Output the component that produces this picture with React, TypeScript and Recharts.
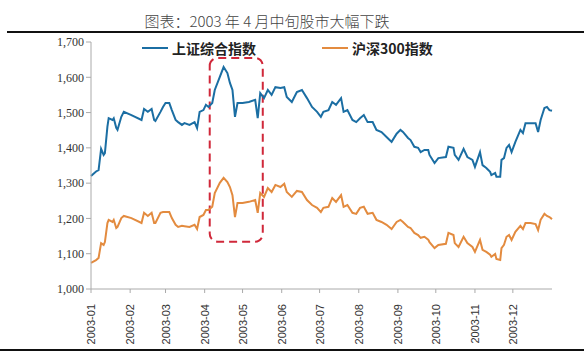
import { LineChart, Line, XAxis, YAxis, ReferenceArea, Legend } from "recharts";

// Day of year (0 = 2003-01-01) for each sampled point
const days = [
  0, 4, 6, 8, 10, 11, 13, 14, 17, 18, 20, 21, 24, 26, 32, 40, 42, 45, 48, 50, 51, 55, 57, 59, 62, 64,
  67, 69, 72, 74, 78, 82, 84, 86, 89, 91, 93, 96, 98, 102, 105, 108, 110, 112, 114, 116, 120, 125,
  130, 132, 134, 137, 140, 143, 146, 150, 153, 155, 159, 163, 167, 171, 175, 179, 182, 184, 188,
  191, 194, 198, 200, 203, 207, 210, 213, 216, 219, 223, 226, 230, 234, 238, 242, 245, 247, 251,
  253, 256, 259, 261, 264, 267, 268, 272, 275, 281, 283, 287, 288, 291, 295, 298, 302, 304, 308,
  310, 313, 316, 317, 320, 321, 324, 325, 327, 329, 331, 333, 336, 340, 342, 344, 348, 352, 354,
  356, 359, 361, 363, 365,
];

const shanghai = [
  1320, 1333, 1337, 1397, 1380, 1385, 1460, 1484, 1479, 1484, 1457, 1451, 1488, 1502, 1493, 1479,
  1510, 1502, 1510, 1479, 1476, 1502, 1516, 1527, 1527, 1507, 1479, 1473, 1465, 1470, 1465, 1473,
  1456, 1502, 1507, 1522, 1516, 1527, 1564, 1601, 1629, 1612, 1584, 1564, 1488, 1527, 1527, 1530,
  1536, 1484, 1555, 1541, 1564, 1550, 1572, 1570, 1572, 1544, 1530, 1558, 1564, 1541, 1516, 1502,
  1488, 1502, 1507, 1530, 1522, 1541, 1502, 1507, 1479, 1473, 1484, 1493, 1473, 1473, 1451, 1445,
  1431, 1417, 1440, 1451, 1445, 1428, 1422, 1403, 1400, 1388, 1394, 1394, 1380, 1357, 1371, 1374,
  1403, 1400, 1380, 1366, 1397, 1374, 1366, 1346, 1388, 1351, 1343, 1332, 1323, 1329, 1318, 1318,
  1366, 1371, 1400, 1408, 1388, 1417, 1451, 1442, 1470, 1470, 1470, 1445, 1479, 1513, 1516, 1507,
  1505,
];

const hs300 = [
  1074, 1082, 1088, 1130, 1125, 1133, 1187, 1196, 1190, 1196, 1173, 1176, 1201, 1207, 1201, 1187,
  1216, 1207, 1216, 1187, 1187, 1216, 1218, 1218, 1218, 1201, 1182, 1176, 1179, 1178, 1176, 1182,
  1170, 1204, 1210, 1224, 1224, 1233, 1272, 1301, 1315, 1303, 1289, 1266, 1204, 1244, 1244, 1247,
  1252, 1216, 1272, 1261, 1286, 1275, 1295, 1289, 1298, 1275, 1261, 1278, 1275, 1252, 1238, 1230,
  1218, 1230, 1233, 1258, 1247, 1266, 1233, 1238, 1216, 1213, 1230, 1233, 1213, 1216, 1196, 1190,
  1182, 1170, 1190, 1196, 1190, 1176, 1173, 1159, 1153, 1145, 1148, 1140, 1133, 1116, 1125, 1128,
  1159, 1153, 1130, 1119, 1148, 1130, 1119, 1105, 1139, 1111, 1105, 1097, 1091, 1099, 1085, 1082,
  1116, 1125, 1148, 1153, 1139, 1162, 1179, 1170, 1187, 1187, 1184, 1167, 1196, 1213, 1207, 1204,
  1198,
];

// month start ticks (day of year) and their labels
const monthTicks = [0, 31, 59, 90, 120, 151, 181, 212, 243, 273, 304, 334];
const monthLabels = [
  "2003-01", "2003-02", "2003-03", "2003-04", "2003-05", "2003-06",
  "2003-07", "2003-08", "2003-09", "2003-10", "2003-11", "2003-12",
];
const yTicks = [1000, 1100, 1200, 1300, 1400, 1500, 1600, 1700];

const seriesNames = ["上证综合指数", "沪深300指数"];
const BLUE = "#1b6ea3";
const ORANGE = "#e38b3f";

// the highlighted mid-April drop
const dropStart = 94;
const dropEnd = 136;
const dropLow = 1134;
const dropHigh = 1655;

const data = days.map((d, i) => ({ day: d, sh: shanghai[i], hs: hs300[i] }));

function MonthTick({ x, y, payload }: any) {
  const label = monthLabels[monthTicks.indexOf(payload.value)] ?? "";
  return (
    <text
      x={x}
      y={y + 9}
      transform={`rotate(-90, ${x}, ${y + 9})`}
      textAnchor="end"
      dominantBaseline="central"
      fontSize={11}
      fill="#333"
      fontFamily="'Liberation Sans', sans-serif"
    >
      {label}
    </text>
  );
}

function LegendContent() {
  const colors = [BLUE, ORANGE];
  return (
    <div style={{ position: "relative", height: 20 }}>
      {seriesNames.map((n, i) => (
        <div
          key={n}
          style={{
            position: "absolute",
            left: i === 0 ? 142 : 322,
            top: 0,
            display: "flex",
            alignItems: "center",
            fontFamily: "'Noto Sans CJK SC', sans-serif",
            fontWeight: 700,
            fontSize: 14,
            color: "#222",
            whiteSpace: "nowrap",
          }}
        >
          <span style={{ display: "inline-block", width: 26, height: 2, background: colors[i], marginRight: 4 }} />
          {n}
        </div>
      ))}
    </div>
  );
}

export default function App() {
  return (
    <div style={{ position: "absolute", left: 0, top: 0, width: 584, height: 352, background: "#fff" }}>
      <div
        style={{
          position: "absolute",
          left: 0,
          width: 534,
          top: 12,
          textAlign: "center",
          fontFamily: "'Noto Sans CJK SC', sans-serif",
          fontWeight: 300,
          fontSize: 15,
          color: "#444",
          lineHeight: "18px",
        }}
      >
        图表：2003 年 4 月中旬股市大幅下跌
      </div>
      <div style={{ position: "absolute", left: 7, right: 0, top: 31, height: 2, background: "#111" }} />
      <div style={{ position: "absolute", left: 0, right: 0, top: 349, height: 2, background: "#111" }} />
      <LineChart
        width={584}
        height={352}
        data={data}
        margin={{ top: 42, right: 32, left: 0, bottom: 0 }}
        style={{ position: "absolute", left: 0, top: 0 }}
      >
        <XAxis
          dataKey="day"
          type="number"
          domain={[0, 365]}
          ticks={monthTicks}
          tick={<MonthTick />}
          interval={0}
          height={63}
          stroke="#aaa"
          tickSize={4}
        />
        <YAxis
          domain={[1000, 1700]}
          ticks={yTicks}
          width={91}
          stroke="#aaa"
          tickSize={5}
          tickFormatter={(v: number) => v.toLocaleString("en-US")}
          tick={{ fill: "#333", fontSize: 12, fontFamily: "'Liberation Serif', serif" }}
        />
        {/* middle alignment keeps the legend from shrinking the plot area */}
        <Legend
          verticalAlign="middle"
          content={<LegendContent />}
          wrapperStyle={{ position: "absolute", left: 0, top: 38, width: 584 }}
        />
        <ReferenceArea
          x1={dropStart}
          x2={dropEnd}
          y1={dropLow}
          y2={dropHigh}
          fill="none"
          stroke="#d0283a"
          strokeWidth={2}
          strokeDasharray="8 5"
          radius={8}
        />
        <Line dataKey="sh" name={seriesNames[0]} stroke={BLUE} strokeWidth={2} dot={false} isAnimationActive={false} />
        <Line dataKey="hs" name={seriesNames[1]} stroke={ORANGE} strokeWidth={2} dot={false} isAnimationActive={false} />
      </LineChart>
    </div>
  );
}
